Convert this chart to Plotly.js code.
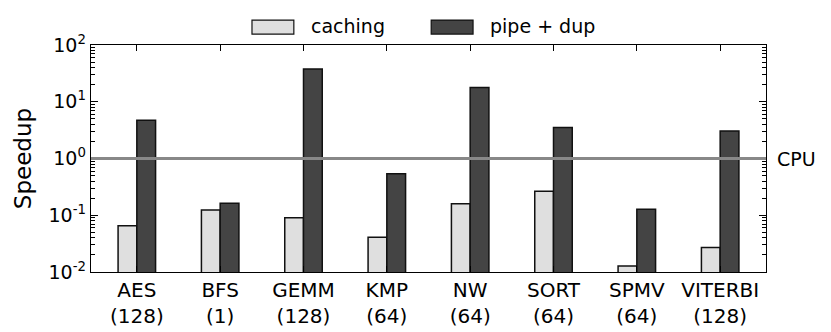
<!DOCTYPE html>
<html>
<head>
<meta charset="utf-8">
<script src="https://cdn.plot.ly/plotly-3.0.1.min.js"></script>
<style>
	html, body { margin: 0; padding: 0; background: #fff; }
	#chart { width: 831px; height: 332px; }
</style>
</head>
<body>
<div id="chart"></div>
<script>
// benchmark names and thread counts
var benchmarks = ['AES', 'BFS', 'GEMM', 'KMP', 'NW', 'SORT', 'SPMV', 'VITERBI'];
var threads = ['128', '1', '128', '64', '64', '64', '64', '128'];

// speedup over CPU (log scale)
var caching = [0.065, 0.124, 0.09, 0.041, 0.16, 0.265, 0.0128, 0.027];
var pipeDup = [4.7, 0.162, 37.8, 0.54, 17.9, 3.5, 0.127, 3.05];

var seriesNames = ['caching', 'pipe + dup'];
var seriesColors = ['#dfdfdf', '#444444'];
var cpuLevel = 1;

var decades = [-2, -1, 0, 1, 2];

var FONT = 'DejaVu Sans, sans-serif';

var tickText = benchmarks.map((b, i) => {
	return b + '<br>(' + threads[i] + ')';
});

// log axis labels as 10^n
var yTickVals = decades.map(d => Math.pow(10, d));
var yTickText = decades.map(d => '10<sup>' + d + '</sup>');
var yMinorVals = [];
decades.slice(0, -1).forEach(d => {
	for(var m = 2; m < 10; m++){
		yMinorVals.push(m * Math.pow(10, d));
	}
});

var data = [caching, pipeDup].map((vals, i) => {
	return {
		x: benchmarks,
		y: vals,
		type: 'bar',
		name: seriesNames[i],
		marker: {
			color: seriesColors[i],
			line: { color: '#111', width: 1.5 }
		},
		showlegend: false
	}
});

// hand-drawn legend so the swatches are the wide matplotlib style
var shapes = [];
var annotations = [];
var legX = [0.2385, 0.504];
seriesNames.forEach((name, i) => {
	shapes.push({
		type: 'rect', xref: 'paper', yref: 'paper',
		x0: legX[i], x1: legX[i] + 0.062,
		y0: 1.048, y1: 1.11,
		fillcolor: seriesColors[i],
		line: { color: '#111', width: 1.2 }
	});
	annotations.push({
		xref: 'paper', yref: 'paper',
		x: legX[i] + 0.084, y: 1.082,
		xanchor: 'left', yanchor: 'middle',
		text: name, showarrow: false,
		font: { family: FONT, size: 19, color: '#000' }
	});
});

// CPU baseline
shapes.push({
	type: 'line', xref: 'paper', yref: 'y',
	x0: 0, x1: 1, y0: cpuLevel, y1: cpuLevel,
	line: { color: '#888888', width: 3 },
	layer: 'above'
});
annotations.push({
	xref: 'paper', yref: 'y',
	x: 1.014, y: Math.log10(cpuLevel),
	xanchor: 'left', yanchor: 'middle',
	text: 'CPU', showarrow: false,
	font: { family: FONT, size: 19, color: '#000' }
});

var layout = {
	width: 831,
	height: 332,
	margin: { l: 91, r: 65, t: 45, b: 60 },
	paper_bgcolor: '#fff',
	plot_bgcolor: '#fff',
	font: { family: FONT, size: 19, color: '#000' },
	barmode: 'group',
	bargap: 0.55,
	bargroupgap: 0,
	xaxis: {
		type: 'category',
		range: [-0.55, 7.55],
		tickmode: 'array',
		tickvals: benchmarks,
		ticktext: tickText,
		ticks: 'inside',
		ticklen: 6,
		tickcolor: '#000',
		showline: true,
		linecolor: '#000',
		linewidth: 1.3,
		mirror: 'ticks',
		showgrid: false,
		zeroline: false,
		tickfont: { family: FONT, size: 20 }
	},
	yaxis: {
		type: 'log',
		range: [-2, 2],
		title: { text: 'Speedup', font: { family: FONT, size: 23 }, standoff: 10 },
		tickmode: 'array',
		tickvals: yTickVals,
		ticktext: yTickText,
		ticks: 'inside',
		ticklen: 7,
		tickcolor: '#000',
		minor: { tickmode: 'array', tickvals: yMinorVals, ticks: 'inside', ticklen: 4, tickcolor: '#000', showgrid: false },
		showline: true,
		linecolor: '#000',
		linewidth: 1.3,
		mirror: 'ticks',
		showgrid: false,
		zeroline: false,
		tickfont: { family: FONT, size: 19 }
	},
	shapes: shapes,
	annotations: annotations
};

Plotly.newPlot('chart', data, layout, { displayModeBar: false, staticPlot: true });
</script>
</body>
</html>
